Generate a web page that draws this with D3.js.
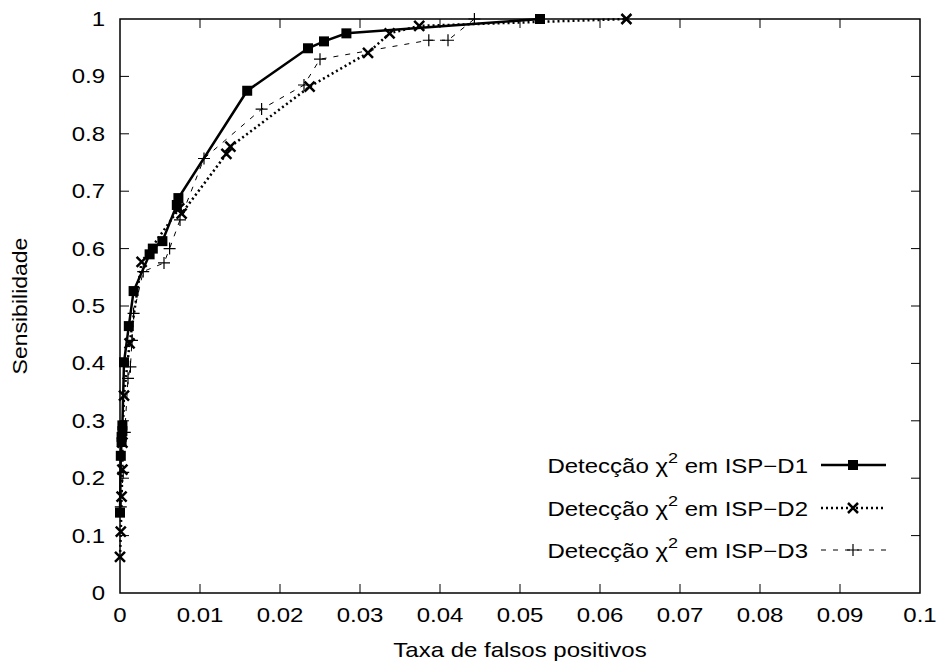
<!DOCTYPE html>
<html>
<head>
<meta charset="utf-8">
<script src="https://cdn.jsdelivr.net/npm/d3@7"></script>
<style>
  body { margin: 0; background: #fff; }
  text { font-family: "Liberation Sans", Arial, sans-serif; fill: #000; }
</style>
</head>
<body>
<svg width="939" height="668"></svg>
<script>
// ROC curves: false positive rate vs sensitivity
var xTicks = [0, 0.01, 0.02, 0.03, 0.04, 0.05, 0.06, 0.07, 0.08, 0.09, 0.1];
var yTicks = [0, 0.1, 0.2, 0.3, 0.4, 0.5, 0.6, 0.7, 0.8, 0.9, 1];
var seriesNames = ["ISP\u2212D1", "ISP\u2212D2", "ISP\u2212D3"];

var d1 = [[0, 0.14], [0.0001, 0.239], [0.0002, 0.263], [0.0002, 0.272], [0.0003, 0.282],
  [0.0003, 0.292], [0.0005, 0.402], [0.0011, 0.465], [0.0017, 0.526], [0.0037, 0.59],
  [0.0041, 0.600], [0.0053, 0.613], [0.0071, 0.676], [0.0073, 0.688], [0.0159, 0.875],
  [0.0235, 0.949], [0.0255, 0.961], [0.0283, 0.975], [0.0525, 1.0]];

var d2 = [[0, 0.063], [0.0001, 0.107], [0.0002, 0.168], [0.0003, 0.215], [0.0003, 0.262],
  [0.0005, 0.344], [0.0012, 0.435], [0.0027, 0.577], [0.0074, 0.670], [0.0077, 0.661],
  [0.0133, 0.765], [0.0138, 0.7775], [0.0237, 0.882], [0.031, 0.941], [0.0337, 0.975],
  [0.0374, 0.988], [0.0633, 1.0]];

var d3s = [[0.0001, 0.15], [0.0004, 0.21], [0.0006, 0.28], [0.0010, 0.374], [0.0013, 0.394],
  [0.0015, 0.44], [0.0017, 0.487], [0.0029, 0.56], [0.0055, 0.575], [0.0062, 0.600],
  [0.0075, 0.65], [0.0105, 0.757], [0.0177, 0.843], [0.0230, 0.885], [0.0250, 0.930],
  [0.0386, 0.963], [0.0410, 0.963], [0.0443, 1.0]];

var svg = d3.select("svg");
var pLeft = 120, pRight = 920, pTop = 19, pBottom = 593;
var fs = 20, stretch = 1.2; // the original text looks horizontally stretched

var x = d3.scaleLinear().domain([0, 0.1]).range([pLeft, pRight]);
var y = d3.scaleLinear().domain([0, 1]).range([pBottom, pTop]);

var tickLen = 9;
var g = svg.append("g");

function label(parent, tx, ty, anchor, str) {
  return parent.append("text")
    .attr("transform", "translate(" + tx + "," + ty + ") scale(" + stretch + ",1)")
    .attr("text-anchor", anchor).style("font-size", fs + "px").text(str);
}

// ticks, mirrored on all four sides
xTicks.forEach(function(t) {
  if (t > 0 && t < 0.1) {
    g.append("line").attr("x1", x(t)).attr("x2", x(t)).attr("y1", pBottom).attr("y2", pBottom - tickLen).attr("stroke", "#000");
    g.append("line").attr("x1", x(t)).attr("x2", x(t)).attr("y1", pTop).attr("y2", pTop + tickLen).attr("stroke", "#000");
  }
  label(g, x(t), 622, "middle", t);
});
yTicks.forEach(function(t) {
  if (t > 0 && t < 1) {
    g.append("line").attr("x1", pLeft).attr("x2", pLeft + tickLen).attr("y1", y(t)).attr("y2", y(t)).attr("stroke", "#000");
    g.append("line").attr("x1", pRight).attr("x2", pRight - tickLen).attr("y1", y(t)).attr("y2", y(t)).attr("stroke", "#000");
  }
  label(g, pLeft - 15, y(t) + 7, "end", t);
});

g.append("rect").attr("x", pLeft).attr("y", pTop).attr("width", pRight - pLeft).attr("height", pBottom - pTop)
  .attr("fill", "none").attr("stroke", "#000").attr("stroke-width", 1.5);

label(g, (pLeft + pRight) / 2, 657, "middle", "Taxa de falsos positivos");
g.append("text").attr("transform", "translate(27," + ((pTop + pBottom) / 2) + ") rotate(-90) scale(1.15,1)")
  .attr("text-anchor", "middle").style("font-size", fs + "px").text("Sensibilidade");

var line = d3.line().x(function(d) { return x(d[0]); }).y(function(d) { return y(d[1]); });

var styles = [
  {data: d1, width: 2.5, dash: null, marker: "square"},
  {data: d2, width: 2.5, dash: "2,3", marker: "cross"},
  {data: d3s, width: 1, dash: "5,7", marker: "plus"}
];

function drawMarker(sel, type, cx, cy) {
  if (type == "square") {
    sel.append("rect").attr("x", cx - 5).attr("y", cy - 5).attr("width", 10).attr("height", 10).attr("fill", "#000");
  } else if (type == "cross") {
    sel.append("path").attr("d", "M" + (cx - 5) + "," + (cy - 5) + "L" + (cx + 5) + "," + (cy + 5) +
      "M" + (cx - 5) + "," + (cy + 5) + "L" + (cx + 5) + "," + (cy - 5))
      .attr("stroke", "#000").attr("stroke-width", 2.5);
  } else {
    sel.append("path").attr("d", "M" + (cx - 6) + "," + cy + "L" + (cx + 6) + "," + cy +
      "M" + cx + "," + (cy - 6) + "L" + cx + "," + (cy + 6))
      .attr("stroke", "#000").attr("stroke-width", 1.2);
  }
}

styles.forEach(function(s) {
  var p = svg.append("path").datum(s.data).attr("d", line).attr("fill", "none")
    .attr("stroke", "#000").attr("stroke-width", s.width);
  if (s.dash) p.attr("stroke-dasharray", s.dash);
  var mg = svg.append("g");
  s.data.forEach(function(d) { drawMarker(mg, s.marker, x(d[0]), y(d[1])); });
});

// legend
var legY = [465, 508, 550];
styles.forEach(function(s, i) {
  var t = svg.append("text")
    .attr("transform", "translate(808," + (legY[i] + 8) + ") scale(" + stretch + ",1)")
    .attr("text-anchor", "end").style("font-size", fs + "px");
  t.append("tspan").text("Detecção ");
  t.append("tspan").text("χ");
  t.append("tspan").attr("dy", -10).style("font-size", "15px").text("2");
  t.append("tspan").attr("dy", 10).text(" em " + seriesNames[i]);
  var l = svg.append("line").attr("x1", 821).attr("x2", 886).attr("y1", legY[i]).attr("y2", legY[i])
    .attr("stroke", "#000").attr("stroke-width", s.width);
  if (s.dash) l.attr("stroke-dasharray", s.dash);
  drawMarker(svg, s.marker, 853, legY[i]);
});
</script>
</body>
</html>
